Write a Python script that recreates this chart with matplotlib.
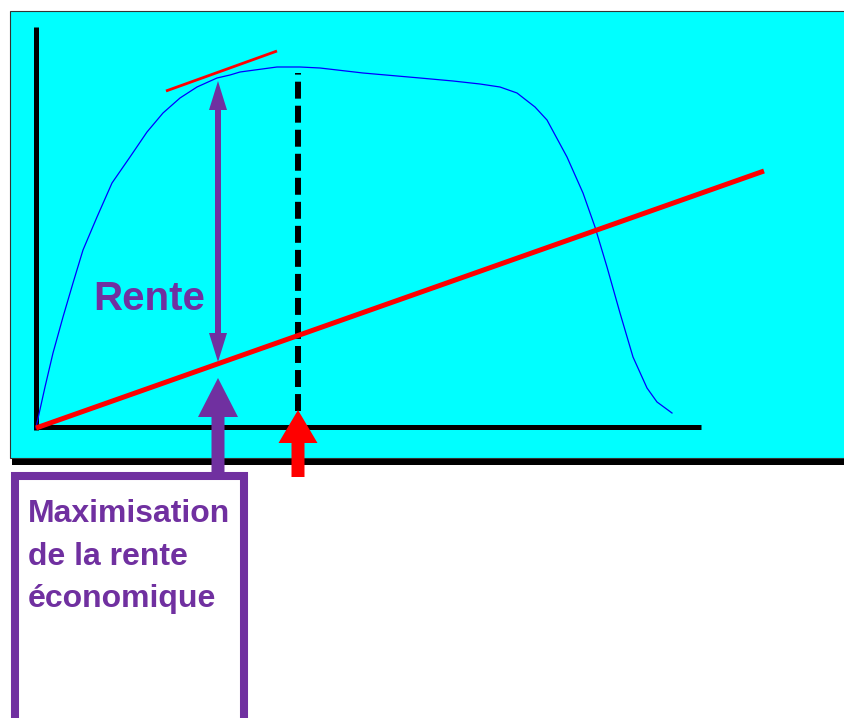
import matplotlib.pyplot as plt
from matplotlib.patches import Rectangle

plt.rcParams['lines.scale_dashes'] = False

# picture coordinates (pixels, y down)
curve_x = [36, 37, 45, 53, 63, 73, 83, 97, 112, 130, 147, 163, 180, 197, 217, 230, 240,
           277, 300, 320, 363, 420, 453, 480, 500, 517, 535, 547, 567, 583, 595, 607,
           620, 633, 647, 657, 672]
curve_y = [428, 423, 387, 353, 317, 283, 250, 217, 183, 157, 132, 113, 98, 87, 78, 75, 72,
           67, 67, 68, 73, 78, 81, 84, 87, 93, 107, 120, 157, 193, 227, 267,
           313, 357, 388, 402, 413]

cost_x = [36, 764]
cost_y = [428, 171]
tangent_x = [166, 277]
tangent_y = [91, 51]
opt_x = 298
opt_y = [411, 73]

purple = "#7030A0"

fig = plt.figure(figsize=(8.44, 7.18), dpi=100)
ax = fig.add_axes([0, 0, 1, 1])
ax.set_xlim(0, 844)
ax.set_ylim(718, 0)
ax.axis("off")

# panel with shadow
ax.add_patch(Rectangle((12, 15), 850, 450, facecolor="black", edgecolor="none", zorder=0))
ax.add_patch(Rectangle((10, 11), 850, 447, facecolor="#00FFFF", edgecolor="#333333",
                       linewidth=0.8, zorder=1))

# axes
ax.plot([36, 36], [27, 430], color="black", lw=3.6, solid_capstyle="butt", zorder=2)
ax.plot([34, 701], [427, 427], color="black", lw=3.6, solid_capstyle="butt", zorder=2)

# curves
ax.plot(curve_x, curve_y, color="#0000FF", lw=0.9, zorder=3)
ax.plot(cost_x, cost_y, color="#FF0000", lw=3.6, solid_capstyle="butt", zorder=4)
ax.plot(tangent_x, tangent_y, color="#FF0000", lw=2.0, solid_capstyle="butt", zorder=4)
ax.plot([opt_x, opt_x], opt_y, color="black", lw=4.3, dashes=(12.2, 5.1),
        dash_capstyle="butt", zorder=3)

# rent double arrow
mid = 222
ax.arrow(218, mid, 0, 81 - mid, width=6, head_width=18, head_length=29,
         length_includes_head=True, color=purple, lw=0, zorder=5)
ax.arrow(218, mid, 0, 362 - mid, width=6, head_width=18, head_length=29,
         length_includes_head=True, color=purple, lw=0, zorder=5)
ax.text(93, 310, "Rente", color=purple, fontsize=29, fontweight="bold",
        family="Liberation Sans", va="baseline", ha="left", zorder=5)

# label box
ax.add_patch(Rectangle((15, 476), 229, 400, facecolor="white", edgecolor=purple,
                       linewidth=5.8, zorder=6))
ax.arrow(218, 477, 0, 378 - 477, width=13, head_width=40, head_length=39,
         length_includes_head=True, color=purple, lw=0, zorder=7)
ax.arrow(298, 477, 0, 410 - 477, width=13, head_width=39, head_length=33,
         length_includes_head=True, color="#FF0000", lw=0, zorder=7)

for txt, yb in zip(["Maximisation", "de la rente", "économique"], [522, 565, 607]):
    ax.text(28, yb, txt, color=purple, fontsize=23, fontweight="bold",
            family="Liberation Sans", va="baseline", ha="left", zorder=8)

fig.savefig("out.png", dpi=100)
